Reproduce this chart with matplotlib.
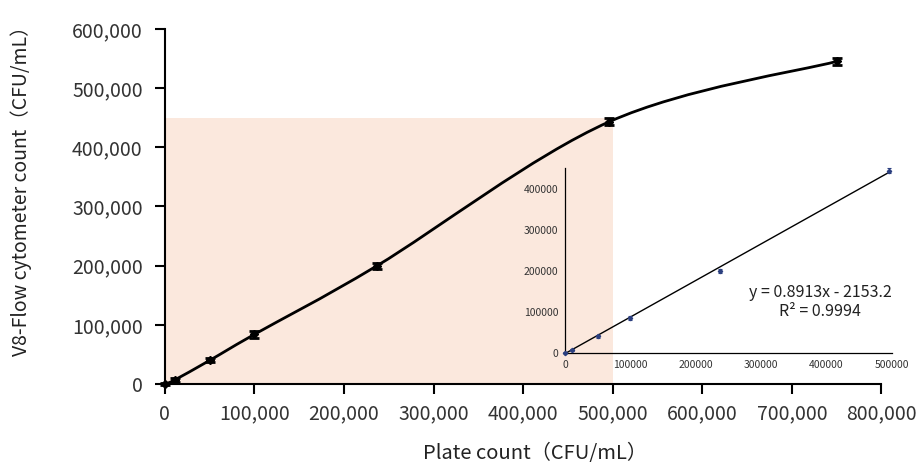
import numpy as np
import matplotlib.pyplot as plt
from matplotlib.path import Path
from matplotlib.patches import PathPatch, Rectangle
from matplotlib.ticker import FuncFormatter

plt.rcParams['font.family'] = ['Noto Sans CJK SC', 'DejaVu Sans']

# data
plate = np.array([0, 11000, 50000, 100000, 237000, 496000, 750000])
flow = np.array([0, 7000, 40000, 84000, 200000, 443000, 545000])
flow_err = np.array([1500, 3000, 3500, 5500, 5000, 6000, 6000])

# inset = linear range only
inset_x = plate[:6]
inset_y = flow[:6]
inset_err = flow_err[:6]
slope = 0.8913
intercept = -2153.2
r2 = 0.9994

shade_x = 500000
shade_y = 450000


def smooth_path(x, y):
    # Catmull-Rom -> cubic bezier, like Excel's smoothed line
    pts = np.column_stack([x, y]).astype(float)
    verts = [pts[0]]
    codes = [Path.MOVETO]
    n = len(pts)
    for i in range(n - 1):
        p0 = pts[i - 1] if i > 0 else pts[i]
        p1 = pts[i]
        p2 = pts[i + 1]
        p3 = pts[i + 2] if i + 2 < n else pts[i + 1]
        c1 = p1 + (p2 - p0) / 6
        c2 = p2 - (p3 - p1) / 6
        verts += [c1, c2, p2]
        codes += [Path.CURVE4] * 3
    return Path(verts, codes)


fig = plt.figure(figsize=(9.21, 4.73), dpi=100)
ax = fig.add_axes([0.179, 0.188, 0.778, 0.751])

ax.add_patch(Rectangle((0, 0), shade_x, shade_y, facecolor='#fbe8dd', edgecolor='none', zorder=0))
ax.add_patch(PathPatch(smooth_path(plate, flow), facecolor='none', edgecolor='black', lw=2, zorder=3))
eb = ax.errorbar(plate, flow, yerr=flow_err, fmt='D', color='black', ms=4, capsize=3.5,
                 elinewidth=2, capthick=2, zorder=4)
for art in eb.lines[0:1] + tuple(eb.lines[1]) + tuple(eb.lines[2]):
    art.set_clip_on(False)

ax.set_xlim(0, 800000)
ax.set_ylim(0, 600000)
ax.set_xticks(np.arange(0, 800001, 100000))
ax.set_yticks(np.arange(0, 600001, 100000))
fmt = FuncFormatter(lambda v, p: f'{int(v):,}')
ax.xaxis.set_major_formatter(fmt)
ax.yaxis.set_major_formatter(fmt)
ax.tick_params(direction='out', length=7, width=1.5, labelsize=14, colors='black',
               labelcolor='#333333')
ax.tick_params(axis='y', pad=9)
ax.tick_params(axis='x', pad=7)
for s in ['top', 'right']:
    ax.spines[s].set_visible(False)
for s in ['left', 'bottom']:
    ax.spines[s].set_linewidth(1.5)
ax.set_xlabel('Plate count（CFU/mL）', fontsize=14.5, color='#222222')
ax.set_ylabel('V8-Flow cytometer count（CFU/mL）', fontsize=14, color='#222222')
ax.xaxis.set_label_coords(0.516, -0.165)
ax.yaxis.set_label_coords(-0.186, 0.558)

# inset
ins = fig.add_axes([0.6135, 0.2543, 0.355, 0.3905])
ins.patch.set_alpha(0)
ins.plot([0, inset_x[-1]], [intercept, slope * inset_x[-1] + intercept], color='black', lw=1)
ins.errorbar(inset_x, inset_y, yerr=inset_err, fmt='D', color='#2b3f7f', ms=2.2,
             capsize=1.5, elinewidth=0.8, capthick=0.8, zorder=4, clip_on=False)
ins.set_xlim(0, 500000)
ins.set_ylim(0, 450000)
ins.set_xticks(np.arange(0, 500001, 100000))
ins.set_yticks(np.arange(0, 400001, 100000))
ins.tick_params(length=0, labelsize=7.5, labelcolor='#333333', pad=5)
for s in ['top', 'right']:
    ins.spines[s].set_visible(False)
for s in ['left', 'bottom']:
    ins.spines[s].set_linewidth(0.9)
ins.text(0.78, 0.274, f'y = {slope}x - {abs(intercept)}\nR² = {r2}', transform=ins.transAxes,
         fontsize=11.5, ha='center', va='center', color='#222222', linespacing=1.1)

fig.savefig('out.png', dpi=100)
